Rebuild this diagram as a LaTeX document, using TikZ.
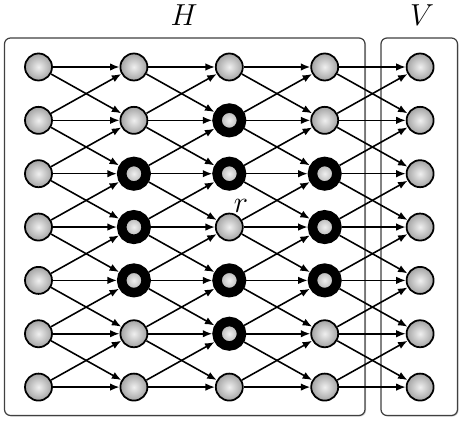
\documentclass[tikz,border=0pt]{standalone}
\usepackage{amsmath}
\usepackage{tikz}
\usetikzlibrary{positioning,arrows.meta,shadows}

\begin{document}
\begin{tikzpicture}[plain/.style={circle,inner sep=0pt,minimum size=0.54cm,draw=black,line width=1pt,shading=radial,inner color=gray!12,outer color=gray!72},
        marked/.style={minimum size=0.49cm,line width=0.19cm},
        mk-2-3/.style=marked, mk-2-4/.style=marked, mk-2-5/.style=marked,
        mk-3-2/.style=marked, mk-3-3/.style=marked, mk-3-5/.style=marked, mk-3-6/.style=marked,
        mk-4-3/.style=marked, mk-4-4/.style=marked, mk-4-5/.style=marked,
        group/.style={draw=black!75,line width=0.7pt,fill=white,rounded corners=0.12cm,minimum height=7.55cm,inner sep=0pt,
                      drop shadow={shadow xshift=0.6pt,shadow yshift=-0.6pt,opacity=0.35}},
        letter/.style={font=\fontsize{19}{22}\selectfont},
        link/.style={line width=0.9pt,-{Latex[length=1.9mm,width=1.5mm]}}]
        \useasboundingbox (0,0) rectangle (9.2,-8.44);
        % the two groups
        \node[group, minimum width=7.21cm] (Hbox) at (3.695,-4.535) {};
        \node[group, minimum width=1.53cm] (Vbox) at (8.385,-4.535) {};
        \node[letter] (Hlab) at (3.68,-0.3) {$H$};
        \node[letter] (Vlab) at (8.44,-0.3) {$V$};
        % grid of vertices
        \foreach \c in {1,...,5}{
          \foreach \j in {1,...,7}{
            \node[plain, mk-\c-\j/.try] (n-\c-\j) at ({0.77+(\c-1)*1.908},{-1.34-(\j-1)*1.067}) {};
          }}
        \node[letter, inner sep=0pt, above right=0.08cm and -0.12cm of n-3-4] (rlab) {$r$};
        % arrows to the next column
        \foreach \c in {1,...,4}{
          \pgfmathtruncatemacro{\d}{\c+1}
          \foreach \j in {1,...,7}{
            \foreach \dk in {-1,0,1}{
              \pgfmathtruncatemacro{\k}{\j+\dk}
              \ifnum\k>0 \ifnum\k<8
                \draw[link] (n-\c-\j) -- (n-\d-\k);
              \fi\fi
            }}}
        \end{tikzpicture}
\end{document}
